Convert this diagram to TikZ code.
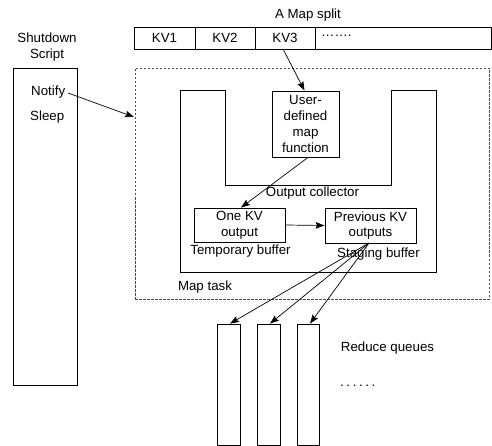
\documentclass[tikz,border=0pt]{standalone}
\usepackage{fontspec}
\setmainfont{Liberation Sans}
\usetikzlibrary{arrows.meta}
\begin{document}
\begin{tikzpicture}[x=1pt,y=-1pt,
  every node/.style={font=\fontsize{13.3}{15.5}\selectfont, inner sep=0pt},
  box/.style={draw, line width=0.8pt, rectangle},
  conn/.style={line width=0.7pt, -{Stealth[length=9pt,width=6.5pt,inset=1.5pt]}},
  dashbox/.style={draw=black!70, line width=0.8pt, dash pattern=on 2.5pt off 1.5pt}]
\useasboundingbox (0,0) rectangle (492,446);

% Map split bar
\node[box, minimum width=61pt, minimum height=22pt] (kv1) at (164.5,38) {KV1};
\node[box, minimum width=60pt, minimum height=22pt] (kv2) at (225,38) {KV2};
\node[box, minimum width=60pt, minimum height=22pt] (kv3) at (285,38) {KV3};
\node[box, minimum width=176pt, minimum height=22pt] (kvr) at (403,38) {};
\node[anchor=west] (dots1) at (321,36) {…….};
\node (split) at (308,15) {A Map split};

% Shutdown script
\node[align=center] (sdlabel) at (47,47) {Shutdown\\Script};
\node[box, minimum width=64pt, minimum height=317pt] (sd) at (45,226.5) {};
\node[anchor=west] (notify) at (31,92) {Notify};
\node[anchor=west] (sleep) at (30,117) {Sleep};

% Map task dashed box
\node[dashbox, minimum width=354pt, minimum height=231pt] (maptask) at (312,183.5) {};
\coordinate (mtin) at (134,117);
\node (maptasklbl) at (205,287) {Map task};

% U-shaped output collector
\draw[line width=0.8pt] (180,90) -- (225,90) -- (225,185) -- (391,185) -- (391,90)
  -- (436,90) -- (436,272) -- (180,272) -- cycle;
\node (oc) at (312.5,193) {Output collector};

% user-defined map function
\node[box, fill=white, minimum width=67pt, minimum height=66pt, align=center,
  font=\fontsize{13.3}{16.3}\selectfont] (func) at (305.5,124) {User-\\defined\\map\\function};

% buffers
\node[box, minimum width=91pt, minimum height=34pt, align=center] (onekv) at (239.5,225) {One KV\\output};
\node (tmp) at (240.5,251) {Temporary buffer};
\node[box, minimum width=91pt, minimum height=35pt, align=center] (prev) at (370.5,225.5) {Previous KV\\outputs};
\node (stg) at (378.5,254) {Staging buffer};

% reduce queues
\node[box, minimum width=23pt, minimum height=121pt] (q1) at (228.5,384.5) {};
\node[box, minimum width=23pt, minimum height=121pt] (q2) at (268.5,384.5) {};
\node[box, minimum width=22pt, minimum height=121pt] (q3) at (308,384.5) {};
\node (rq) at (387.5,348) {Reduce queues};
\node[anchor=west] (dots2) at (340,386) {.\kern2.6pt.\kern2.6pt.\kern2.6pt.\kern2.6pt.\kern2.6pt.};

% connectors
\coordinate (kv3out) at (283,49);
\draw[conn] (kv3out) -- ([xshift=-1pt]func.north);
\coordinate (notout) at (68,93);
\draw[conn] (notout) -- (mtin);
\draw[conn] ([xshift=2.5pt]func.south) -- ([xshift=1.5pt]onekv.north);
\draw[conn] (onekv.east) -- (prev.east -| prev.west);
\coordinate (pvout) at (369,243);
\draw[conn] (pvout) -- ([xshift=1.5pt]q1.north);
\draw[conn] (pvout) -- ([xshift=1.5pt]q2.north);
\draw[conn] (pvout) -- ([xshift=2pt]q3.north);
\end{tikzpicture}
\end{document}
